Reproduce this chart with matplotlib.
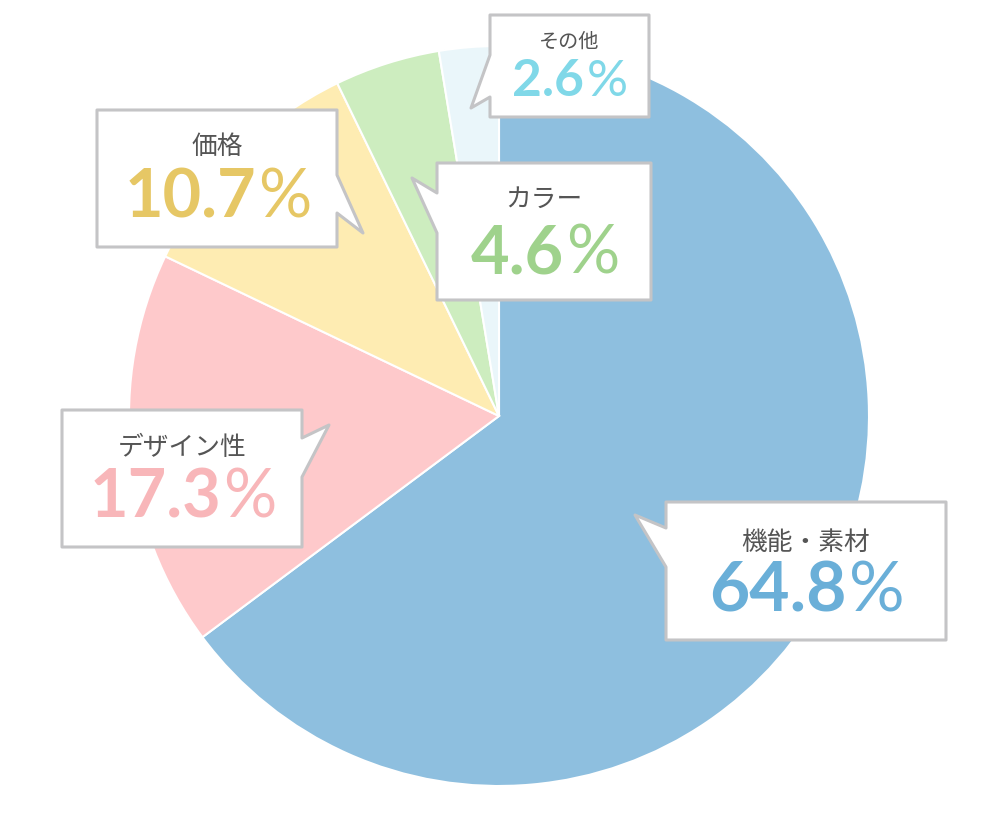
import matplotlib.pyplot as plt
from matplotlib.patches import Polygon

plt.rcParams['font.family'] = ['Noto Sans CJK JP', 'DejaVu Sans']

# data
labels = ['機能・素材', 'デザイン性', '価格', 'カラー', 'その他']
values = [64.8, 17.3, 10.7, 4.6, 2.6]
slice_colors = ['#8ebfdf', '#fec9cb', '#feecb2', '#cdedbf', '#eaf6fa']
text_colors = ['#6aafd8', '#f8b6b9', '#e6c765', '#9fd28c', '#80d8e8']

W, H = 1000, 816

fig = plt.figure(figsize=(10, 8.16), dpi=100)
ax = fig.add_axes([0, 0, 1, 1])

ax.pie(values, colors=slice_colors, startangle=90, counterclock=False,
       center=(499, H - 416), radius=370, frame=True,
       wedgeprops=dict(edgecolor='white', linewidth=1.5))
ax.set_xlim(0, W)
ax.set_ylim(0, H)
ax.set_aspect('equal')
ax.axis('off')

# callout boxes in image pixels: (left, top, right, bottom), tail side, tail points
boxes = {
    '機能・素材': ((666, 502, 946, 640), 'left', [(666, 567), (635, 515), (666, 528)]),
    'デザイン性': ((62, 410, 302, 547), 'right', [(302, 438), (329, 425), (302, 477)]),
    '価格': ((97, 110, 337, 247), 'right', [(337, 175), (363, 233), (337, 213)]),
    'カラー': ((437, 163, 651, 300), 'left', [(437, 233), (412, 178), (437, 193)]),
    'その他': ((490, 15, 649, 117), 'left', [(490, 97), (471, 108), (490, 55)]),
}
label_pos = {
    '機能・素材': (806, 543, 592, 18.5, 50),
    'デザイン性': (182, 448, 499, 18.5, 48),
    '価格': (217, 147, 199, 18.5, 48),
    'カラー': (544, 200, 254, 18.5, 48),
    'その他': (569, 42, 82, 14.5, 37),
}

renderer = fig.canvas.get_renderer()
inv = ax.transData.inverted()
px = inv.transform((1, 0))[0] - inv.transform((0, 0))[0]

for lab, val, tc in zip(labels, values, text_colors):
    (l, t, r, b), side, tail = boxes[lab]
    if side == 'left':
        pts = [(l, t), (r, t), (r, b), (l, b)] + tail
    else:
        pts = [(l, t), (r, t)] + tail + [(r, b), (l, b)]
    pts = [(x, H - y) for x, y in pts]
    ax.add_patch(Polygon(pts, closed=True, facecolor='white', edgecolor='#c4c4c6',
                         linewidth=2.2, joinstyle='round', zorder=5))

    cx, ly, py, lfs, pfs = label_pos[lab]
    ax.text(cx, H - ly, lab, ha='center', va='center', fontsize=lfs,
            color='#555555', zorder=6)

    num = ax.text(0, H - py, f'{val:.1f}', ha='left', va='center', fontsize=pfs,
                  fontweight='bold', family='Lato', color=tc, zorder=6)
    pct = ax.text(0, H - py, '%', ha='left', va='center', fontsize=pfs,
                  fontweight='normal', family='Lato', color=tc, zorder=6)
    wn = num.get_window_extent(renderer).width * px
    wp = pct.get_window_extent(renderer).width * px
    x0 = cx - (wn + wp) / 2
    num.set_x(x0)
    pct.set_x(x0 + wn + 2)

fig.savefig('out.png', dpi=100, facecolor='white')
